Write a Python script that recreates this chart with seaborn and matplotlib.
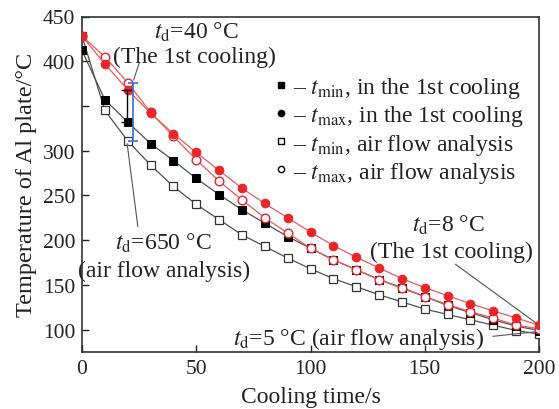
import numpy as np
import pandas as pd
import matplotlib
matplotlib.use("Agg")
import matplotlib.pyplot as plt
from matplotlib.lines import Line2D
import seaborn as sns

# ---- data ----
time = [0, 10, 20, 30, 40, 50, 60, 70, 80, 90, 100, 110, 120, 130, 140, 150, 160, 170, 180, 190, 200]
tmin_1st = [412, 357, 332, 308, 289, 269, 251, 234, 219, 204, 191, 178, 167, 156, 147, 137, 127, 119, 111, 104, 99]
tmax_1st = [428, 397, 368, 342, 319, 298, 278, 258, 241, 225, 209, 194, 181, 169, 157, 147, 138, 129, 121, 113, 105]
tmin_air = [428, 345, 311, 284, 260, 240, 223, 206, 193, 180, 168, 157, 148, 139, 131, 123, 117, 111, 105, 99, 95]
tmax_air = [428, 405, 376, 343, 316, 290, 266, 245, 225, 208, 191, 178, 167, 156, 146, 137, 128, 120, 113, 105, 101]

legend_labels = [
    r"– $t_{\mathrm{min}}$, in the 1st cooling",
    r"– $t_{\mathrm{max}}$, in the 1st cooling",
    r"– $t_{\mathrm{min}}$, air flow analysis",
    r"– $t_{\mathrm{max}}$, air flow analysis",
]
xticks = [0, 50, 100, 150, 200]
yticks = [100, 150, 200, 250, 300, 350, 400, 450]
ytick_labels = ["100", "150", "200", "250", "300", "", "400", "450"]

# ---- style ----
sns.set_theme(style="ticks")
plt.rcParams["font.family"] = ["Liberation Serif", "DejaVu Serif"]
plt.rcParams["mathtext.fontset"] = "stix"

TXT = "#222222"
RED = "#e8262a"
REDLINE = "#ee5a5a"
GRAY = "#505050"

fig = plt.figure(figsize=(5.59, 4.10), dpi=100)
ax = fig.add_axes([82 / 559, 1 - 353 / 410, (539 - 82) / 559, (353 - 17.5) / 410])

df = pd.DataFrame({"time": time, "tmin_1st": tmin_1st, "tmax_1st": tmax_1st,
                   "tmin_air": tmin_air, "tmax_air": tmax_air})

sns.lineplot(data=df, x="time", y="tmin_air", ax=ax, color=GRAY, linewidth=0.9,
             marker="s", markersize=5.3, markerfacecolor="white", markeredgecolor="#333333",
             markeredgewidth=0.9, zorder=3)
sns.lineplot(data=df, x="time", y="tmin_1st", ax=ax, color=GRAY, linewidth=0.9,
             marker="s", markersize=5.3, markerfacecolor="black", markeredgecolor="black",
             zorder=4)
sns.lineplot(data=df, x="time", y="tmax_air", ax=ax, color=REDLINE, linewidth=0.9,
             marker="o", markersize=6.2, markerfacecolor="white", markeredgecolor=RED,
             markeredgewidth=1.0, zorder=5)
sns.lineplot(data=df, x="time", y="tmax_1st", ax=ax, color=REDLINE, linewidth=0.9,
             marker="o", markersize=6.2, markerfacecolor=RED, markeredgecolor=RED,
             zorder=6)

# brackets showing td at t=20
i20 = time.index(20)
xb, xbl = 19.8, 22.2
ax.vlines(xb, tmin_1st[i20], tmax_1st[i20], color="black", lw=1.0, zorder=7)
ax.hlines([tmin_1st[i20], tmax_1st[i20]], xb - 2.7, xb + 2.7, color="black", lw=1.0, zorder=7)
ax.vlines(xbl, tmin_air[i20], tmax_air[i20], color="#3a6fd8", lw=1.2, zorder=7)
ax.hlines([tmin_air[i20], tmax_air[i20]], xbl - 2.2, xbl + 2.2, color="#3a6fd8", lw=1.2, zorder=7)

# annotations
FS = 17
lp = dict(arrowstyle="-", color="#555555", lw=0.8)
ax.annotate("", xy=(xbl, tmax_air[i20]), xytext=(25.4, 401), arrowprops=lp)
ax.annotate("", xy=(19.6, tmin_air[i20]), xytext=(24.6, 212), arrowprops=lp)
ax.annotate("", xy=(time[-1], tmax_1st[-1]), xytext=(162.4, 175), arrowprops=lp)
ax.annotate("", xy=(time[-1], (tmin_air[-1] + tmax_air[-1]) / 2), xytext=(178.6, 92.2), arrowprops=lp)

ax.text(49.9, 433, r"$t_{\mathrm{d}}$=40 °C", ha="center", va="center", fontsize=FS, color=TXT)
ax.text(49.0, 405.6, "(The 1st cooling)", ha="center", va="center", fontsize=FS, color=TXT)
ax.text(35.4, 197.4, r"$t_{\mathrm{d}}$=650 °C", ha="center", va="center", fontsize=FS, color=TXT)
ax.text(35.9, 166, "(air flow analysis)", ha="center", va="center", fontsize=FS, color=TXT)
ax.text(160.2, 217.5, r"$t_{\mathrm{d}}$=8 °C", ha="center", va="center", fontsize=FS, color=TXT)
ax.text(161.5, 187.3, "(The 1st cooling)", ha="center", va="center", fontsize=FS, color=TXT)
ax.text(120.8, 91, r"$t_{\mathrm{d}}$=5 °C (air flow analysis)", ha="center", va="center",
        fontsize=FS, color=TXT)

# legend
handles = [
    Line2D([], [], marker="s", color="black", linestyle="none", markersize=4.5),
    Line2D([], [], marker="o", color="black", linestyle="none", markersize=4.5),
    Line2D([], [], marker="s", markerfacecolor="white", markeredgecolor="black",
           linestyle="none", markersize=4.5),
    Line2D([], [], marker="o", markerfacecolor="white", markeredgecolor="black",
           linestyle="none", markersize=4.5),
]
leg = ax.legend(handles, legend_labels, loc="center left", bbox_to_anchor=(274 / 559, 1 - 131 / 410),
                bbox_transform=fig.transFigure, frameon=False, fontsize=FS, handlelength=0.6,
                handletextpad=0.2, labelspacing=0.13, borderpad=0, borderaxespad=0)
for t in leg.get_texts():
    t.set_color(TXT)

# axes
ax.set_xlim(0, 200)
ax.set_ylim(75, 450)
ax.set_xticks(xticks)
ax.set_xticklabels([str(v) for v in xticks])
ax.set_yticks(yticks)
ax.set_yticklabels(ytick_labels)
ax.tick_params(direction="in", length=5, width=1.0, labelsize=15.5, colors=TXT, pad=5)
for s in ax.spines.values():
    s.set_visible(True)
    s.set_color("#333333")
    s.set_linewidth(1.2)
ax.set_xlabel("Cooling time/s", fontsize=17, color=TXT, labelpad=6)
ax.set_ylabel("Temperature of Al plate/°C", fontsize=17.5, color=TXT, labelpad=4)
ax.grid(False)

fig.savefig("out.png", dpi=100)
